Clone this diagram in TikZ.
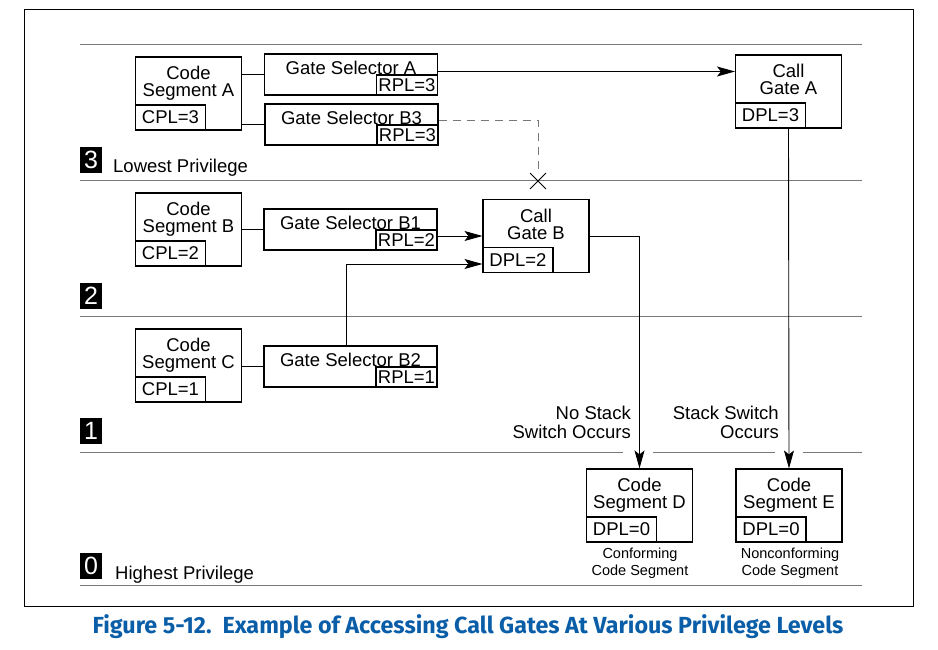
\documentclass[tikz,border=0pt]{standalone}
\usepackage{fontspec}
\setmainfont{Liberation Sans}
\newfontfamily\capfont{Fira Sans}
\usetikzlibrary{arrows.meta,calc,positioning,shapes.misc}

\definecolor{capblue}{RGB}{10,94,168}
\definecolor{lvlgray}{RGB}{120,120,120}
\newcommand\mainsz{\fontsize{18.5}{17}\selectfont}
\newcommand\notesz{\fontsize{14.5}{17}\selectfont}

\begin{document}
\begin{tikzpicture}[x=1pt,y=-1pt,
  seg/.style={draw,line width=1.1pt,minimum width=106,minimum height=73,inner sep=0},
  sel/.style={draw,line width=1.1pt,minimum width=173,minimum height=41,inner sep=0},
  ttl/.style={align=center,font=\mainsz,inner sep=0},
  tag/.style={draw,line width=1.1pt,minimum width=70,minimum height=25,inner sep=0,anchor=south west,font=\mainsz},
  rtag/.style={draw,line width=1.1pt,minimum width=61,minimum height=20,inner sep=0,anchor=south east,font=\mainsz},
  lvl/.style={fill=black,text=white,minimum width=22,minimum height=26,inner sep=0,font=\fontsize{25}{25}\selectfont},
  arr/.style={-{Stealth[length=18pt,width=10pt,inset=4pt]},line width=0.9pt},
  wire/.style={line width=0.9pt}]
  \useasboundingbox (0,0) rectangle (938,650);
  \draw[line width=1pt] (24,10) rectangle (913,606);
  % privilege level rules
  \foreach \y in {45,181,316,585} {
    \draw[lvlgray,line width=1pt] (80,\y) -- (862,\y);
  }
  \draw[lvlgray,line width=1pt] (80,452) -- (623,452) (653,452) -- (775,452) (803,452) -- (862,452);
  \foreach \y/\n in {160/3, 296/2, 431/1, 566/0} {
    \node[lvl] (lvl\n) at (91,\y) {\n};
  }
  \node[font=\mainsz,anchor=base west,inner sep=0] (lowest) at (113,173) {Lowest Privilege};
  \node[font=\mainsz,anchor=base west,inner sep=0] (highest) at (115,579) {Highest Privilege};
  % level 3
  \node[seg] (segA) at (188.5,93.5) {};
  \node[ttl,below=9.5pt of segA.north] (segAt) {Code\\Segment A};
  \node[tag] (cplA) at (segA.south west) {CPL=3};
  \node[sel] (selA) at (351,74.5) {};
  \node[ttl,below=7pt of selA.north] (selAt) {Gate Selector A};
  \node[rtag] (rplA) at (selA.south east) {RPL=3};
  \node[sel] (selB3) at (351.5,124.5) {};
  \node[ttl,below=7pt of selB3.north] (selB3t) {Gate Selector B3};
  \node[rtag] (rplB3) at (selB3.south east) {RPL=3};
  \node[seg] (gateA) at (788.5,91.5) {};
  \node[ttl,below=9.5pt of gateA.north] (gateAt) {Call\\Gate A};
  \node[tag] (dplA) at (gateA.south west) {DPL=3};
  % level 2
  \node[seg] (segB) at (188.5,229.5) {};
  \node[ttl,below=9.5pt of segB.north] (segBt) {Code\\Segment B};
  \node[tag] (cplB) at (segB.south west) {CPL=2};
  \node[sel] (selB1) at (350.5,229.5) {};
  \node[ttl,below=7pt of selB1.north] (selB1t) {Gate Selector B1};
  \node[rtag] (rplB1) at (selB1.south east) {RPL=2};
  \node[seg] (gateB) at (536,236) {};
  \node[ttl,below=9.5pt of gateB.north] (gateBt) {Call\\Gate B};
  \node[tag] (dplB) at (gateB.south west) {DPL=2};
  % level 1
  \node[seg] (segC) at (188.5,365.5) {};
  \node[ttl,below=9.5pt of segC.north] (segCt) {Code\\Segment C};
  \node[tag] (cplC) at (segC.south west) {CPL=1};
  \node[sel] (selB2) at (350.5,366.5) {};
  \node[ttl,below=7pt of selB2.north] (selB2t) {Gate Selector B2};
  \node[rtag] (rplB2) at (selB2.south east) {RPL=1};
  % level 0
  \node[seg] (segD) at (639.5,505.5) {};
  \node[ttl,below=9.5pt of segD.north] (segDt) {Code\\Segment D};
  \node[tag] (dplD) at (segD.south west) {DPL=0};
  \node[seg] (segE) at (789,505.5) {};
  \node[ttl,below=9.5pt of segE.north] (segEt) {Code\\Segment E};
  \node[tag] (dplE) at (segE.south west) {DPL=0};
  \node[align=center,font=\notesz,inner sep=0] (confD) at (640,563) {Conforming\\Code Segment};
  \node[align=center,font=\notesz,inner sep=0] (confE) at (790,563) {Nonconforming\\Code Segment};
  \node[align=right,font=\fontsize{18.5}{19}\selectfont,anchor=east,inner sep=0] (nostack) at (631,422) {No Stack\\Switch Occurs};
  \node[align=right,font=\fontsize{18.5}{19}\selectfont,anchor=east,inner sep=0] (stack) at (779,422) {Stack Switch\\Occurs};
  % connectors
  \node[draw,cross out,line width=0.9pt,minimum size=15,inner sep=0] (blocked) at (538,181) {};
  \draw[wire] (segA.east |- selA.west) -- (selA.west);
  \draw[wire] (segA.east |- selB3.west) -- (selB3.west);
  \draw[wire] (segB.east |- selB1.west) -- (selB1.west);
  \draw[wire] (segC.east |- selB2.west) -- (selB2.west);
  \draw[arr] ([yshift=3]selA.east) -- ([yshift=3]selA.east -| gateA.west);
  \draw[wire,lvlgray,dash pattern=on 8pt off 6pt] ([yshift=4]selB3.east) -| (blocked.north);
  \draw[arr] (gateB.west -| selB1.east) -- (gateB.west);
  \draw[arr] ([xshift=-4]selB2.north) |- ([yshift=-4]dplB.west);
  \draw[arr] (gateB.east) -| (segD.north);
  \draw[arr] (gateA.south) -- (segE.north);
  % caption
  \node[font=\capfont\bfseries\fontsize{23.3}{24}\selectfont,text=capblue,inner sep=0] (caption) at (468,627) {Figure 5-12.\ \ Example of Accessing Call Gates At Various Privilege Levels};
\end{tikzpicture}
\end{document}
